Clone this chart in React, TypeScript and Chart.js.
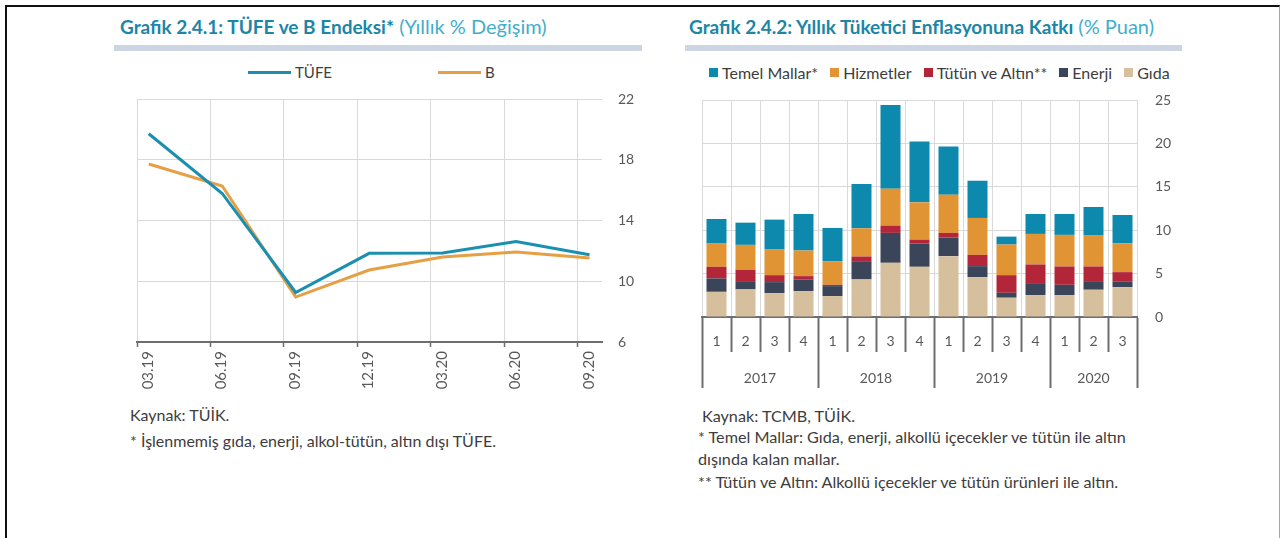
import React, { useEffect, useRef } from 'react';
import { Chart, registerables } from 'chart.js';

Chart.register(...registerables);

// ---------- Chart 2.4.1 data ----------
const LINE_DATES = ['03.19', '06.19', '09.19', '12.19', '03.20', '06.20', '09.20'];
const TUFE = [19.71, 15.78, 9.26, 11.84, 11.86, 12.62, 11.75];
const B_INDEX = [17.72, 16.27, 8.96, 10.74, 11.6, 11.93, 11.53];
const LINE_Y_MIN = 6;
const LINE_Y_MAX = 22;
const LINE_Y_STEP = 4;

// ---------- Chart 2.4.2 data ----------
const QUARTERS = ['1', '2', '3', '4', '1', '2', '3', '4', '1', '2', '3', '4', '1', '2', '3'];
const YEARS = ['2017', '2018', '2019', '2020'];
const YEAR_QUARTER_COUNTS = [4, 4, 4, 3];
const GIDA = [2.9, 3.18, 2.76, 2.99, 2.41, 4.33, 6.24, 5.78, 7.01, 4.59, 2.22, 2.53, 2.53, 3.14, 3.45];
const ENERJI = [1.54, 0.95, 1.26, 1.34, 1.15, 2.1, 3.45, 2.68, 2.14, 1.27, 0.57, 1.37, 1.18, 0.99, 0.61];
const TUTUN_ALTIN = [1.34, 1.31, 0.8, 0.38, 0.15, 0.54, 0.84, 0.46, 0.54, 1.3, 2.03, 2.15, 2.11, 1.69, 1.11];
const HIZMETLER = [2.68, 2.87, 2.95, 2.95, 2.72, 3.25, 4.25, 4.29, 4.4, 4.25, 3.53, 3.52, 3.64, 3.56, 3.33];
const TEMEL_MALLAR = [2.83, 2.56, 3.45, 4.21, 3.83, 5.09, 9.65, 7.0, 5.55, 4.29, 0.91, 2.3, 2.41, 3.29, 3.25];
const BAR_Y_MIN = 0;
const BAR_Y_MAX = 25;
const BAR_Y_STEP = 5;

// ---------- styles ----------
const FONT = 'Lato, "Open Sans", sans-serif';
const TITLE_COLOR = '#1b86a6';
const SUBTITLE_COLOR = '#43aeca';
const RULE_COLOR = '#ccd6e2';
const TEXT_COLOR = '#3d3d3d';
const TICK_COLOR = '#595959';
const GRID_COLOR = '#d9d9d9';
const AXIS_COLOR = '#6e6e6e';
const LINE_TEAL = '#1a8fb0';
const LINE_ORANGE = '#e69f45';
const BAR_TEAL = '#0c89ad';
const BAR_ORANGE = '#e09433';
const BAR_RED = '#b3263a';
const BAR_DARK = '#3b4559';
const BAR_TAN = '#d6bf9c';
const CLEAR = 'rgba(0,0,0,0)';

// x shift of line points relative to their date gridline (dates are month ends)
const POINT_SHIFT = 0.16;
const LINE_X_MAX = 6.33;

function LineChart() {
  const ref = useRef<HTMLCanvasElement>(null);
  useEffect(() => {
    const canvas = ref.current;
    if (!canvas) return;
    const chart = new Chart(canvas, {
      type: 'line',
      data: {
        datasets: [
          {
            label: 'TÜFE',
            data: TUFE.map((v, i) => ({ x: i + POINT_SHIFT, y: v })),
            borderColor: LINE_TEAL,
            backgroundColor: LINE_TEAL,
            borderWidth: 3,
            pointRadius: 0,
            tension: 0,
          },
          {
            label: 'B',
            data: B_INDEX.map((v, i) => ({ x: i + POINT_SHIFT, y: v })),
            borderColor: LINE_ORANGE,
            backgroundColor: LINE_ORANGE,
            borderWidth: 3,
            pointRadius: 0,
            tension: 0,
          },
        ],
      },
      options: {
        animation: false,
        responsive: false,
        maintainAspectRatio: false,
        layout: { padding: { top: 10, left: 27, right: 0, bottom: 0 } },
        plugins: { legend: { display: false }, tooltip: { enabled: false } },
        scales: {
          x: {
            type: 'linear',
            min: 0,
            max: LINE_X_MAX,
            afterBuildTicks: (s: any) => {
              s.ticks = LINE_DATES.map((_, i) => ({ value: i }));
            },
            afterFit: (s: any) => {
              s.height = 60;
            },
            ticks: {
              autoSkip: false,
              maxRotation: 90,
              minRotation: 90,
              labelOffset: 11,
              padding: 4,
              color: TICK_COLOR,
              font: { family: FONT, size: 15 },
              callback: (v: any) => LINE_DATES[Math.round(Number(v))] ?? '',
            },
            grid: { color: GRID_COLOR, tickColor: AXIS_COLOR, tickLength: 5, lineWidth: 1, tickWidth: 1.5 },
            border: { color: AXIS_COLOR, width: 2 },
          },
          y: {
            position: 'right',
            min: LINE_Y_MIN,
            max: LINE_Y_MAX,
            afterFit: (s: any) => {
              s.width = 40;
            },
            ticks: {
              stepSize: LINE_Y_STEP,
              padding: 0,
              color: TICK_COLOR,
              font: { family: FONT, size: 14 },
            },
            grid: { color: GRID_COLOR, drawTicks: true, tickLength: 16, tickColor: CLEAR, lineWidth: 1 },
            border: { display: false },
          },
        },
      },
    });
    return () => chart.destroy();
  }, []);
  return (
    <canvas
      ref={ref}
      width={532}
      height={313}
      style={{ position: 'absolute', left: 110, top: 89, width: 532, height: 313 }}
    />
  );
}

function BarChart() {
  const ref = useRef<HTMLCanvasElement>(null);
  useEffect(() => {
    const canvas = ref.current;
    if (!canvas) return;
    const yearTicks: { value: number; label: string; boundary: boolean }[] = [];
    let start = -0.5;
    YEAR_QUARTER_COUNTS.forEach((n, i) => {
      yearTicks.push({ value: start, label: '', boundary: true });
      yearTicks.push({ value: start + n / 2, label: YEARS[i], boundary: false });
      start += n;
    });
    yearTicks.push({ value: start, label: '', boundary: true });
    const lastIndex = QUARTERS.length - 1;
    const findYearTick = (v: any) => yearTicks.find((t) => Math.abs(t.value - Number(v)) < 1e-6);

    const mk = (label: string, data: number[], color: string) => ({
      label,
      data,
      backgroundColor: color,
      borderWidth: 0,
      barPercentage: 0.69,
      categoryPercentage: 1,
      stack: 's',
    });

    const chart = new Chart(canvas, {
      type: 'bar',
      data: {
        labels: QUARTERS,
        datasets: [
          mk('Gıda', GIDA, BAR_TAN),
          mk('Enerji', ENERJI, BAR_DARK),
          mk('Tütün ve Altın**', TUTUN_ALTIN, BAR_RED),
          mk('Hizmetler', HIZMETLER, BAR_ORANGE),
          mk('Temel Mallar*', TEMEL_MALLAR, BAR_TEAL),
        ],
      },
      options: {
        animation: false,
        responsive: false,
        maintainAspectRatio: false,
        layout: { padding: { top: 10, left: 12, right: 0, bottom: 0 } },
        plugins: { legend: { display: false }, tooltip: { enabled: false } },
        scales: {
          x: {
            stacked: true,
            offset: true,
            weight: 0,
            afterFit: (s: any) => {
              s.height = 35;
            },
            ticks: {
              autoSkip: false,
              maxRotation: 0,
              padding: -19,
              color: TICK_COLOR,
              font: { family: FONT, size: 14 },
            },
            grid: { offset: true, color: GRID_COLOR, tickColor: AXIS_COLOR, tickLength: 35, lineWidth: 1, tickWidth: 2 },
            border: { color: AXIS_COLOR, width: 2 },
          },
          x2: {
            type: 'linear',
            position: 'bottom',
            weight: 1,
            offset: false,
            min: -0.5,
            max: lastIndex + 0.5,
            afterBuildTicks: (s: any) => {
              s.ticks = yearTicks.map((t) => ({ value: t.value }));
            },
            afterFit: (s: any) => {
              s.height = 45;
            },
            ticks: {
              autoSkip: false,
              maxRotation: 0,
              padding: -18,
              color: TICK_COLOR,
              font: { family: FONT, size: 14 },
              callback: (v: any) => findYearTick(v)?.label ?? '',
            },
            grid: {
              offset: false,
              drawOnChartArea: false,
              tickLength: 36,
              tickWidth: 2,
              tickColor: (ctx: any) => {
                const t = findYearTick(ctx.tick?.value);
                return t && t.boundary ? AXIS_COLOR : CLEAR;
              },
            },
            border: { display: false },
          },
          y: {
            stacked: true,
            position: 'right',
            min: BAR_Y_MIN,
            max: BAR_Y_MAX,
            afterFit: (s: any) => {
              s.width = 40;
            },
            ticks: {
              stepSize: BAR_Y_STEP,
              padding: 0,
              color: TICK_COLOR,
              font: { family: FONT, size: 14 },
            },
            grid: { color: GRID_COLOR, drawTicks: true, tickLength: 18, tickColor: CLEAR, lineWidth: 1 },
            border: { display: false },
          },
        },
      },
    });
    return () => chart.destroy();
  }, []);
  return (
    <canvas
      ref={ref}
      width={487}
      height={307}
      style={{ position: 'absolute', left: 690, top: 90, width: 487, height: 307 }}
    />
  );
}

const abs = (left: number, top: number, extra: React.CSSProperties = {}): React.CSSProperties => ({
  position: 'absolute',
  left,
  top,
  whiteSpace: 'nowrap',
  ...extra,
});

const LINE_LEGEND = [
  { label: 'TÜFE', color: LINE_TEAL, left: 248 },
  { label: 'B', color: LINE_ORANGE, left: 438 },
];

const BAR_LEGEND = [
  { label: 'Temel Mallar*', color: BAR_TEAL },
  { label: 'Hizmetler', color: BAR_ORANGE },
  { label: 'Tütün ve Altın**', color: BAR_RED },
  { label: 'Enerji', color: BAR_DARK },
  { label: 'Gıda', color: BAR_TAN },
];

export default function App() {
  const note1: React.CSSProperties = { fontSize: 16, lineHeight: '18px', color: TEXT_COLOR };
  const note2: React.CSSProperties = { fontSize: 16.2, lineHeight: '18px', color: TEXT_COLOR };
  return (
    <div
      style={{
        position: 'absolute',
        left: 0,
        top: 0,
        width: 1280,
        height: 538,
        background: '#fff',
        overflow: 'hidden',
        fontFamily: FONT,
      }}
    >
      {/* frame */}
      <div
        style={{
          position: 'absolute',
          left: 5,
          top: 5,
          width: 1275,
          height: 560,
          boxSizing: 'border-box',
          borderTop: '2px solid #111',
          borderLeft: '2px solid #111',
          borderRight: '1px solid #a6a6a6',
        }}
      />

      {/* left panel header */}
      <div style={abs(120, 15, { lineHeight: '22px' })}>
        <span style={{ fontWeight: 700, color: TITLE_COLOR, fontSize: 19 }}>Grafik 2.4.1: TÜFE ve B Endeksi*</span>
        <span style={{ color: SUBTITLE_COLOR, fontSize: 20 }}> (Yıllık % Değişim)</span>
      </div>
      <div style={abs(114, 45, { width: 528, height: 6, background: RULE_COLOR })} />

      {LINE_LEGEND.map((it) => (
        <div key={it.label} style={abs(it.left, 63, { display: 'flex', alignItems: 'center', height: 18 })}>
          <div style={{ width: 43, height: 3, background: it.color, marginRight: 4 }} />
          <span style={{ fontSize: 15, color: TEXT_COLOR }}>{it.label}</span>
        </div>
      ))}

      <LineChart />

      <div style={abs(130, 406, note1)}>Kaynak: TÜİK.</div>
      <div style={abs(130, 432, note1)}>* İşlenmemiş gıda, enerji, alkol-tütün, altın dışı TÜFE.</div>

      {/* right panel header */}
      <div style={abs(689, 15, { lineHeight: '22px' })}>
        <span style={{ fontWeight: 700, color: TITLE_COLOR, fontSize: 19 }}>Grafik 2.4.2: Yıllık Tüketici Enflasyonuna Katkı</span>
        <span style={{ color: SUBTITLE_COLOR, fontSize: 20 }}> (% Puan)</span>
      </div>
      <div style={abs(685, 45, { width: 497, height: 6, background: RULE_COLOR })} />

      <div style={abs(709, 62, { display: 'flex', alignItems: 'center', height: 20 })}>
        {BAR_LEGEND.map((it, i) => (
          <div key={it.label} style={{ display: 'flex', alignItems: 'center', marginRight: i < BAR_LEGEND.length - 1 ? 12 : 0 }}>
            <div style={{ width: 9, height: 9, background: it.color, marginRight: 4 }} />
            <span style={{ fontSize: 16, color: TEXT_COLOR }}>{it.label}</span>
          </div>
        ))}
      </div>

      <BarChart />

      <div style={abs(702, 407, note2)}>Kaynak: TCMB, TÜİK.</div>
      <div style={abs(698, 428, note2)}>* Temel Mallar: Gıda, enerji, alkollü içecekler ve tütün ile altın</div>
      <div style={abs(698, 450, note2)}>dışında kalan mallar.</div>
      <div style={abs(698, 473, note2)}>** Tütün ve Altın: Alkollü içecekler ve tütün ürünleri ile altın.</div>
    </div>
  );
}
